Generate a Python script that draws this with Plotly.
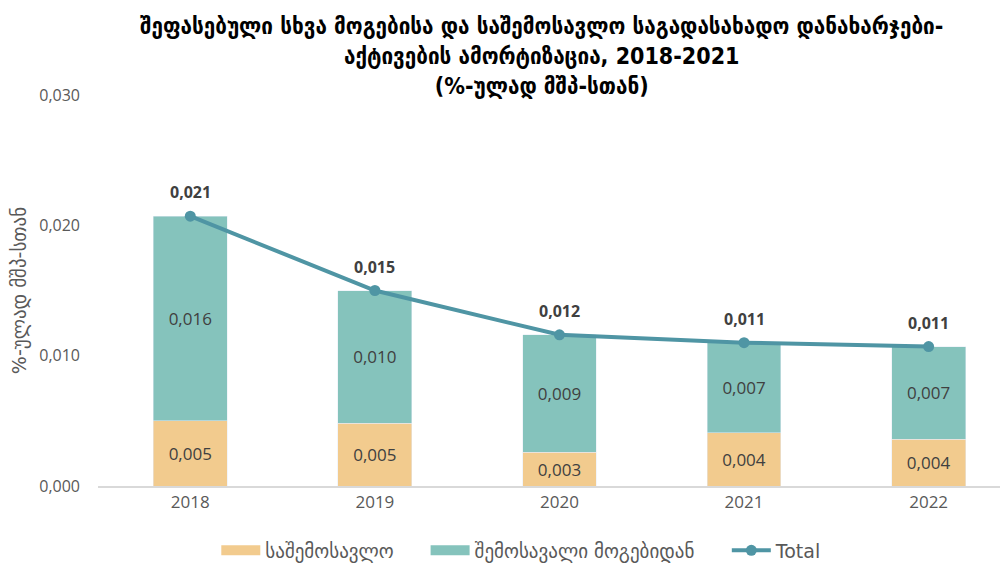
import plotly.graph_objects as go

years = ["2018", "2019", "2020", "2021", "2022"]
income_tax = [0.0050, 0.0048, 0.0026, 0.0041, 0.0036]
profit_tax = [0.0157, 0.0102, 0.0090, 0.0069, 0.0071]
totals = [0.0207, 0.0150, 0.0116, 0.0110, 0.0107]

title_lines = [
    "შეფასებული სხვა მოგებისა და საშემოსავლო საგადასახადო დანახარჯები-",
    "აქტივების ამორტიზაცია, 2018-2021",
    "(%-ულად მშპ-სთან)",
]
y_title = "%-ულად მშპ-სთან"
name_income = "საშემოსავლო"
name_profit = "შემოსავალი მოგებიდან"

ORANGE = "#F2CB8E"
TEAL = "#85C3BC"
LINE = "#4F95A4"
FONT = "DejaVu Sans, Open Sans, sans-serif"
NUM_FONT = "Open Sans"

fig = go.Figure()
fig.add_trace(go.Bar(
    x=years, y=income_tax, name=name_income, marker_color=ORANGE,
    texttemplate="%{y:.3f}", textposition="inside", insidetextanchor="middle",
    textfont=dict(color="#404040", size=17, family=NUM_FONT),
    showlegend=False, legendgroup="inc",
))
fig.add_trace(go.Bar(
    x=years, y=profit_tax, name=name_profit, marker_color=TEAL,
    texttemplate="%{y:.3f}", textposition="inside", insidetextanchor="middle",
    textfont=dict(color="#404040", size=17, family=NUM_FONT),
    showlegend=False, legendgroup="prof",
))
fig.add_trace(go.Scatter(
    x=years, y=totals, name="Total", mode="lines+markers",
    line=dict(color=LINE, width=4), marker=dict(size=11, color=LINE),
    showlegend=False, legendgroup="tot",
))

# legend entries: wide rectangular swatches, one legend each so spacing can be set
fig.add_trace(go.Scatter(x=[None], y=[None], mode="lines", name=name_income,
                         line=dict(color=ORANGE, width=13), legendgroup="inc",
                         legend="legend"))
fig.add_trace(go.Scatter(x=[None], y=[None], mode="lines", name=name_profit,
                         line=dict(color=TEAL, width=13), legendgroup="prof",
                         legend="legend2"))
fig.add_trace(go.Scatter(x=[None], y=[None], mode="lines+markers", name="Total",
                         line=dict(color=LINE, width=4), marker=dict(size=11, color=LINE),
                         legendgroup="tot", legend="legend3"))

# bold total labels above the markers (x given as category index)
for i, t in enumerate(totals):
    fig.add_annotation(
        x=i, y=t, xref="x", yref="y",
        text="<b>" + f"{t:.3f}".replace(".", ",") + "</b>",
        showarrow=False, yshift=24,
        font=dict(size=16, color="#404040", family=NUM_FONT),
    )

# title as annotation so all three lines stay inside the page
fig.add_annotation(
    x=0.487, y=1.216, xref="paper", yref="paper", xanchor="center", yanchor="top",
    text="<b>" + "<br>".join(title_lines) + "</b>", showarrow=False, align="center",
    font=dict(size=23, color="#000000", family="DejaVu Sans Condensed, DejaVu Sans"),
)

legend_style = dict(
    orientation="h", y=-0.165, yanchor="middle", xanchor="left",
    font=dict(size=19, color="#595959", family=FONT), itemwidth=39,
)

# page body adds an 8px offset, so the figure is 8px smaller than the window
fig.update_layout(
    width=1000, height=562,
    barmode="stack", bargap=0.6,
    separators=",.",
    paper_bgcolor="white", plot_bgcolor="white",
    margin=dict(l=90, r=0, t=87, b=82),
    font=dict(family=FONT, color="#595959"),
    legend=dict(x=0.130, **legend_style),
    legend2=dict(x=0.360, **legend_style),
    legend3=dict(x=0.691, **legend_style),
    showlegend=True,
)
fig.update_xaxes(
    type="category", range=[-0.5, 4.43], showline=True, linecolor="#D9D9D9", linewidth=2,
    ticks="", tickfont=dict(size=17, color="#595959", family=NUM_FONT),
)
fig.update_yaxes(
    range=[0, 0.030], dtick=0.010, tickformat=".3f", showgrid=False,
    zeroline=False, showline=False, ticks="", ticklabelstandoff=17,
    tickfont=dict(size=16, color="#595959", family=NUM_FONT),
    title=dict(text=y_title, font=dict(size=19, color="#595959", family=FONT), standoff=15),
)

fig.write_html("out.html")
